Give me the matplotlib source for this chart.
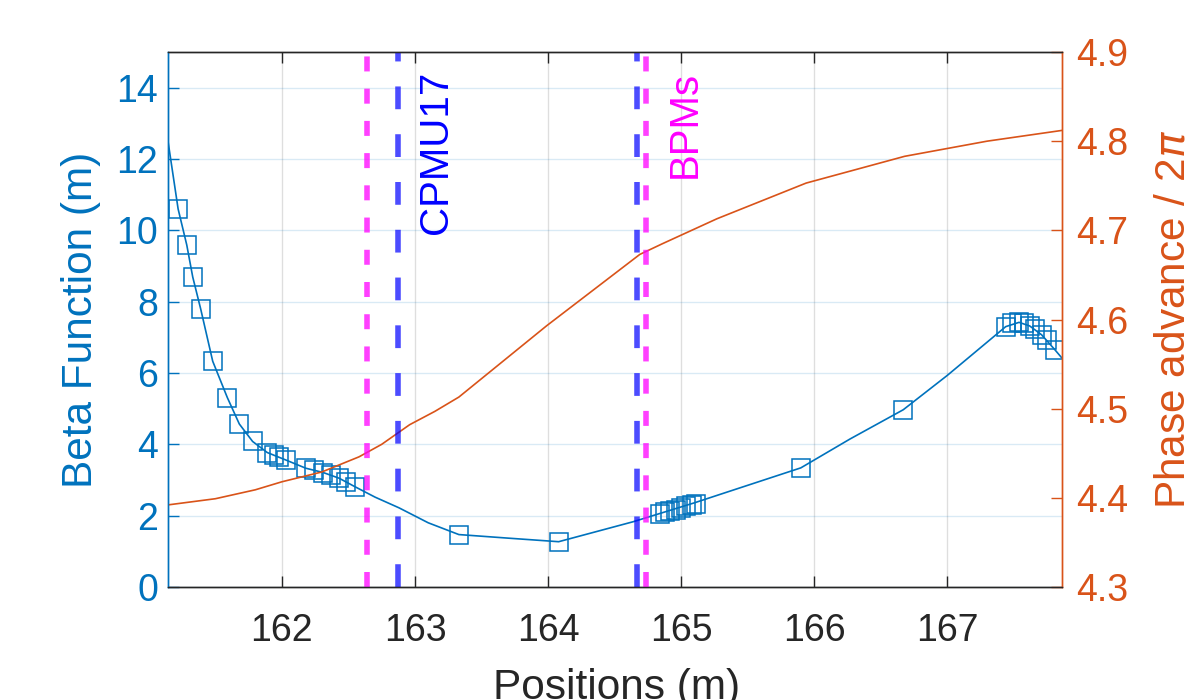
import matplotlib
matplotlib.use("Agg")
import matplotlib.pyplot as plt
import matplotlib.transforms as mtransforms

plt.rcParams['font.family'] = ['Liberation Sans', 'DejaVu Sans']

# === DATA ===
# beta function along the beam line (thin line)
s_beta = [161.14, 161.22, 161.285, 161.33, 161.39, 161.48, 161.59, 161.68, 161.78,
          161.89, 162.03, 162.18, 162.31, 162.43, 162.55, 162.70, 162.88, 163.10,
          163.33, 163.70, 164.08, 164.64, 165.10, 165.50, 165.90, 166.27, 166.67,
          167.00, 167.44, 167.54, 167.62, 167.71, 167.81, 167.86]
beta = [12.6, 10.6, 9.59, 8.69, 7.79, 6.33, 5.31, 4.57, 4.08,
        3.77, 3.56, 3.33, 3.21, 3.05, 2.81, 2.52, 2.22, 1.80,
        1.47, 1.37, 1.27, 1.83, 2.36, 2.85, 3.34, 4.15, 4.97,
        5.93, 7.30, 7.42, 7.32, 7.07, 6.65, 6.43]

# beta at the element positions (square markers)
s_elem = [161.22, 161.285, 161.33, 161.39, 161.48, 161.59, 161.68, 161.78, 161.89,
          161.94, 161.98, 162.03, 162.18, 162.245, 162.31, 162.37, 162.43, 162.48,
          162.55, 163.33, 164.08, 164.84, 164.88, 164.92, 164.96, 165.00, 165.04,
          165.08, 165.11, 165.90, 166.67, 167.44, 167.49, 167.54, 167.58, 167.62,
          167.66, 167.71, 167.75, 167.81]
beta_elem = [10.6, 9.59, 8.69, 7.79, 6.33, 5.31, 4.57, 4.08, 3.77,
             3.70, 3.65, 3.56, 3.33, 3.28, 3.21, 3.14, 3.05, 2.95,
             2.81, 1.47, 1.27, 2.05, 2.09, 2.13, 2.17, 2.22, 2.26,
             2.30, 2.33, 3.34, 4.97, 7.30, 7.40, 7.42, 7.40, 7.32,
             7.23, 7.07, 6.93, 6.65]

# phase advance / 2pi
s_phase = [161.14, 161.50, 161.80, 162.00, 162.30, 162.58, 162.75, 162.96, 163.15,
           163.33, 163.99, 164.69, 164.86, 165.27, 165.94, 166.68, 167.30, 167.86]
phase = [4.392, 4.399, 4.409, 4.418, 4.429, 4.446, 4.460, 4.482, 4.497,
         4.513, 4.593, 4.673, 4.685, 4.713, 4.753, 4.783, 4.800, 4.812]

# markers along the line
cpmu_pos = [162.87, 164.67]
bpm_pos = [162.64, 164.74]

xticks = [162, 163, 164, 165, 166, 167]
yticks_left = [0, 2, 4, 6, 8, 10, 12, 14]
yticks_right = [4.3, 4.4, 4.5, 4.6, 4.7, 4.8, 4.9]

# === STYLE ===
blue = '#0072BD'
orange = '#D95319'
dark = '#262626'

fig = plt.figure(figsize=(11.88, 7), dpi=100)
ax = fig.add_axes([168/1188, 1 - 587/700, (1062 - 168)/1188, (587 - 52)/700])
ax2 = ax.twinx()

ax.plot(s_beta, beta, color=blue, lw=1.2)
ax.plot(s_elem, beta_elem, ls='none', marker='s', mfc='none', mec=blue,
        ms=13.5, mew=1.1)
ax2.plot(s_phase, phase, color=orange, lw=1.2)

for x in bpm_pos:
    ax2.axvline(x, color='magenta', alpha=0.75, lw=4, ls=(0, (2.7, 3.1)))
for x in cpmu_pos:
    ax2.axvline(x, color='blue', alpha=0.7, lw=4, ls=(0, (4.1, 4.5)))

trans = mtransforms.blended_transform_factory(ax2.transData, ax2.transAxes)
ax2.text(163.16, 0.965, 'CPMU17', color='blue', rotation=90, fontsize=29,
         ha='center', va='top', transform=trans)
ax2.text(165.03, 0.965, 'BPMs', color='magenta', rotation=90, fontsize=29,
         ha='center', va='top', transform=trans)

ax.set_xlim(161.144, 167.863)
ax.set_ylim(0, 15)
ax2.set_ylim(4.3, 4.9)
ax.set_xticks(xticks)
ax.set_yticks(yticks_left)
ax2.set_yticks(yticks_right)
ax2.set_yticklabels([f'{v:.1f}' for v in yticks_right])

ax.grid(axis='x', color=dark, alpha=0.15, lw=1)
ax.grid(axis='y', color=blue, alpha=0.15, lw=1)

ax.tick_params(axis='x', direction='in', top=True, length=8, width=1,
               color=dark, labelcolor=dark, labelsize=27, pad=19)
ax.tick_params(axis='y', direction='in', length=8, width=1,
               color=blue, labelcolor=blue, labelsize=27, pad=7)
ax2.tick_params(axis='y', direction='in', length=8, width=1,
                color=orange, labelcolor=orange, labelsize=27, pad=10)

for a in (ax, ax2):
    a.spines['left'].set_color(blue)
    a.spines['right'].set_color(orange)
    a.spines['top'].set_color(dark)
    a.spines['bottom'].set_color(dark)
    for sp in a.spines.values():
        sp.set_linewidth(1.0)

ax.set_xlabel('Positions (m)', fontsize=30.5, color=dark)
ax.xaxis.set_label_coords(0.502, -0.151)
ax.set_ylabel('Beta Function (m)', fontsize=30.5, color=blue)
ax.yaxis.set_label_coords(-0.075, 0.5)
ax2.set_ylabel('Phase advance / 2$\\pi$', fontsize=30.5, color=orange, rotation=90)
ax2.yaxis.set_label_coords(1.102, 0.5)

fig.savefig('out.png', dpi=100)
